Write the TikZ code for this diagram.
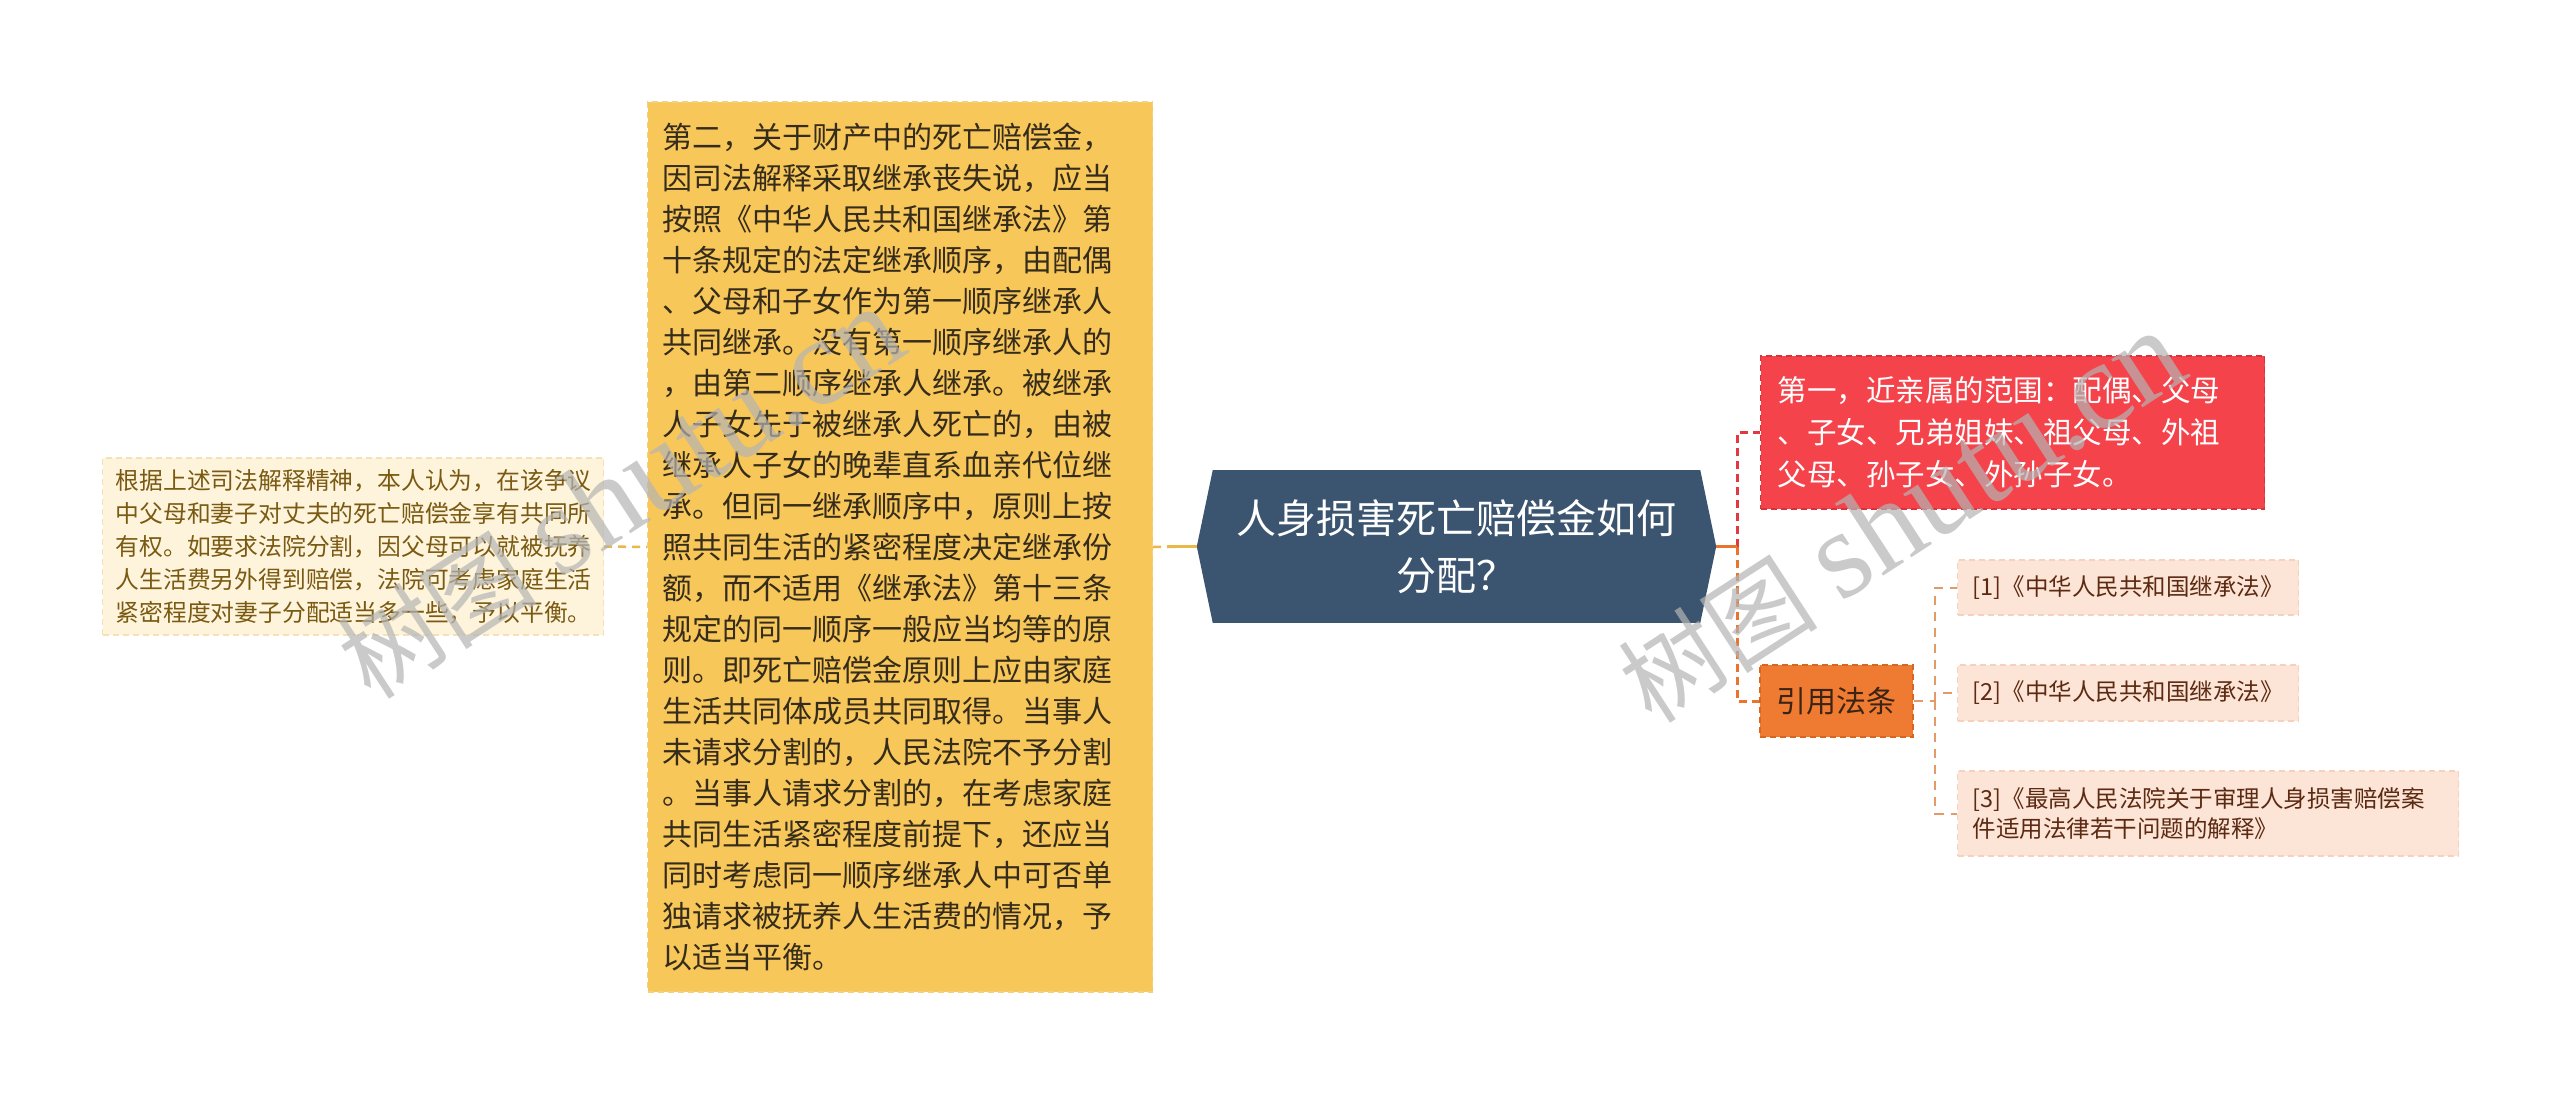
\documentclass[tikz,border=0pt]{standalone}
\usepackage{fontspec}
\setmainfont{Noto Sans CJK SC}
\newfontfamily\wmlat{Liberation Serif}
\usetikzlibrary{calc}
\definecolor{creamfill}{HTML}{FEF4DC}
\definecolor{creamline}{HTML}{F3E2B8}
\definecolor{creamtext}{HTML}{7A5A12}
\definecolor{yelfill}{HTML}{F8C75A}
\definecolor{yelline}{HTML}{F3D27E}
\definecolor{yeltext}{HTML}{352C1C}
\definecolor{rootfill}{HTML}{3B546F}
\definecolor{redfill}{HTML}{F5434B}
\definecolor{redline}{HTML}{D8323A}
\definecolor{citefill}{HTML}{EF7A31}
\definecolor{citeline}{HTML}{D9661F}
\definecolor{citetext}{HTML}{3C2415}
\definecolor{reffill}{HTML}{FCE4D6}
\definecolor{refline}{HTML}{F6D2BE}
\definecolor{reftext}{HTML}{5C2A12}
\definecolor{goldc}{HTML}{E8B84A}
\definecolor{orangec}{HTML}{E8742E}
\definecolor{redc}{HTML}{E03A40}
\definecolor{refc}{HTML}{E39A6A}
\definecolor{wmgray}{HTML}{B4B4B4}
\begin{document}
\begin{tikzpicture}[x=1pt,y=-1pt,
  boxst/.style={dashed, dash pattern=on 6pt off 4pt, line width=1.2pt, inner ysep=0pt},
  goldconn/.style={draw=goldc, line width=2.5pt, dash pattern=on 8pt off 6pt},
  redconn/.style={draw=redc, line width=3pt, dash pattern=on 8pt off 5pt},
  orconn/.style={draw=orangec, line width=3pt, dash pattern=on 8pt off 5pt},
  refconn/.style={draw=refc, line width=2pt, dash pattern=on 9pt off 7pt},
  wm/.style={text=wmgray, opacity=0.7, inner sep=0pt}]
\useasboundingbox (0,0) rectangle (2560,1093);
\fill[white] (0,0) rectangle (2560,1093);

% left cream box
\node[boxst, fill=creamfill, draw=creamline, text=creamtext, anchor=west,
  text width=475pt, inner xsep=13pt, minimum height=177pt, align=left,
  font=\fontsize{23.8}{33}\selectfont] (cream) at (102,546.5)
  {根据上述司法解释精神，本人认为，在该争议\\中父母和妻子对丈夫的死亡赔偿金享有共同所\\有权。如要求法院分割，因父母可以就被抚养\\人生活费另外得到赔偿，法院可考虑家庭生活\\紧密程度对妻子分配适当多一些，予以平衡。};

% yellow box
\node[boxst, fill=yelfill, draw=yelline, text=yeltext, anchor=west,
  text width=475pt, inner xsep=15pt, minimum height=890pt, align=left,
  font=\fontsize{30}{41}\selectfont] (yel) at (647,547)
  {第二，关于财产中的死亡赔偿金，\\因司法解释采取继承丧失说，应当\\按照《中华人民共和国继承法》第\\十条规定的法定继承顺序，由配偶\\、父母和子女作为第一顺序继承人\\共同继承。没有第一顺序继承人的\\，由第二顺序继承人继承。被继承\\人子女先于被继承人死亡的，由被\\继承人子女的晚辈直系血亲代位继\\承。但同一继承顺序中，原则上按\\照共同生活的紧密程度决定继承份\\额，而不适用《继承法》第十三条\\规定的同一顺序一般应当均等的原\\则。即死亡赔偿金原则上应由家庭\\生活共同体成员共同取得。当事人\\未请求分割的，人民法院不予分割\\。当事人请求分割的，在考虑家庭\\共同生活紧密程度前提下，还应当\\同时考虑同一顺序继承人中可否单\\独请求被抚养人生活费的情况，予\\以适当平衡。};

% root hexagon
\node[fill=rootfill, text=white, minimum width=487pt, minimum height=153pt,
  inner sep=0pt, align=center, font=\fontsize{40}{57}\selectfont] (root) at (1456.5,546.5)
  {人身损害死亡赔偿金如何\\分配？};
\coordinate (rootL) at ($(root.west)+(-16,0)$);
\coordinate (rootR) at ($(root.east)+(16,0)$);
\fill[rootfill] (root.north west) -- (rootL) -- (root.south west) -- cycle;
\fill[rootfill] (root.north east) -- (rootR) -- (root.south east) -- cycle;

% red box
\node[boxst, fill=redfill, draw=redline, text=white, anchor=west,
  text width=470pt, inner xsep=17pt, minimum height=153pt, align=left,
  font=\fontsize{29.5}{42}\selectfont] (red) at (1760,432.5)
  {第一，近亲属的范围：配偶、父母\\、子女、兄弟姐妹、祖父母、外祖\\父母、孙子女、外孙子女。};

% cite box
\node[boxst, fill=citefill, draw=citeline, text=citetext, minimum width=153pt,
  minimum height=72pt, inner sep=0pt, font=\fontsize{30}{36}\selectfont] (cite) at (1836.5,701)
  {引用法条};

% reference boxes
\node[boxst, fill=reffill, draw=refline, text=reftext, anchor=west,
  text width=311pt, inner xsep=15pt, minimum height=55pt, align=left,
  font=\fontsize{23.5}{30}\selectfont] (r1) at (1957,587.5)
  {[1]《中华人民共和国继承法》};
\node[boxst, fill=reffill, draw=refline, text=reftext, anchor=west,
  text width=311pt, inner xsep=15pt, minimum height=56pt, align=left,
  font=\fontsize{23.5}{30}\selectfont] (r2) at (1957,693)
  {[2]《中华人民共和国继承法》};
\node[boxst, fill=reffill, draw=refline, text=reftext, anchor=west,
  text width=471pt, inner xsep=15pt, minimum height=85pt, align=left,
  font=\fontsize{23.5}{30}\selectfont] (r3) at (1957,813.5)
  {[3]《最高人民法院关于审理人身损害赔偿案\\件适用法律若干问题的解释》};

% connectors
\draw[goldconn] (cream.east) -- (yel.west);
\draw[goldconn] (yel.east) -- (rootL);
\draw[draw=goldc, line width=3pt] ($(rootL)+(-30,0)$) -- (rootL);
\coordinate (bus) at (1737,546.5);
\draw[redconn] (bus) |- (red.west);
\draw[orconn] (bus) |- (cite.west);
\draw[draw=orangec, line width=3pt] (rootR) -- (bus);
\coordinate (sub) at (1935,701);
\draw[refconn] (cite.east) -- (sub);
\draw[refconn] (sub) |- (r1.west);
\draw[refconn] (sub) |- (r2.west);
\draw[refconn] (sub) |- (r3.west);

% watermarks
\node[wm, rotate=33, anchor=west] (wm1) at (350,669)
  {{\fontsize{100}{100}\selectfont 树图}\hspace{24pt}{\wmlat\fontsize{125}{125}\selectfont shutu.cn}};
\node[wm, rotate=33, anchor=west] (wm2) at (1631,693)
  {{\fontsize{100}{100}\selectfont 树图}\hspace{24pt}{\wmlat\fontsize{125}{125}\selectfont shutu.cn}};
\end{tikzpicture}
\end{document}
